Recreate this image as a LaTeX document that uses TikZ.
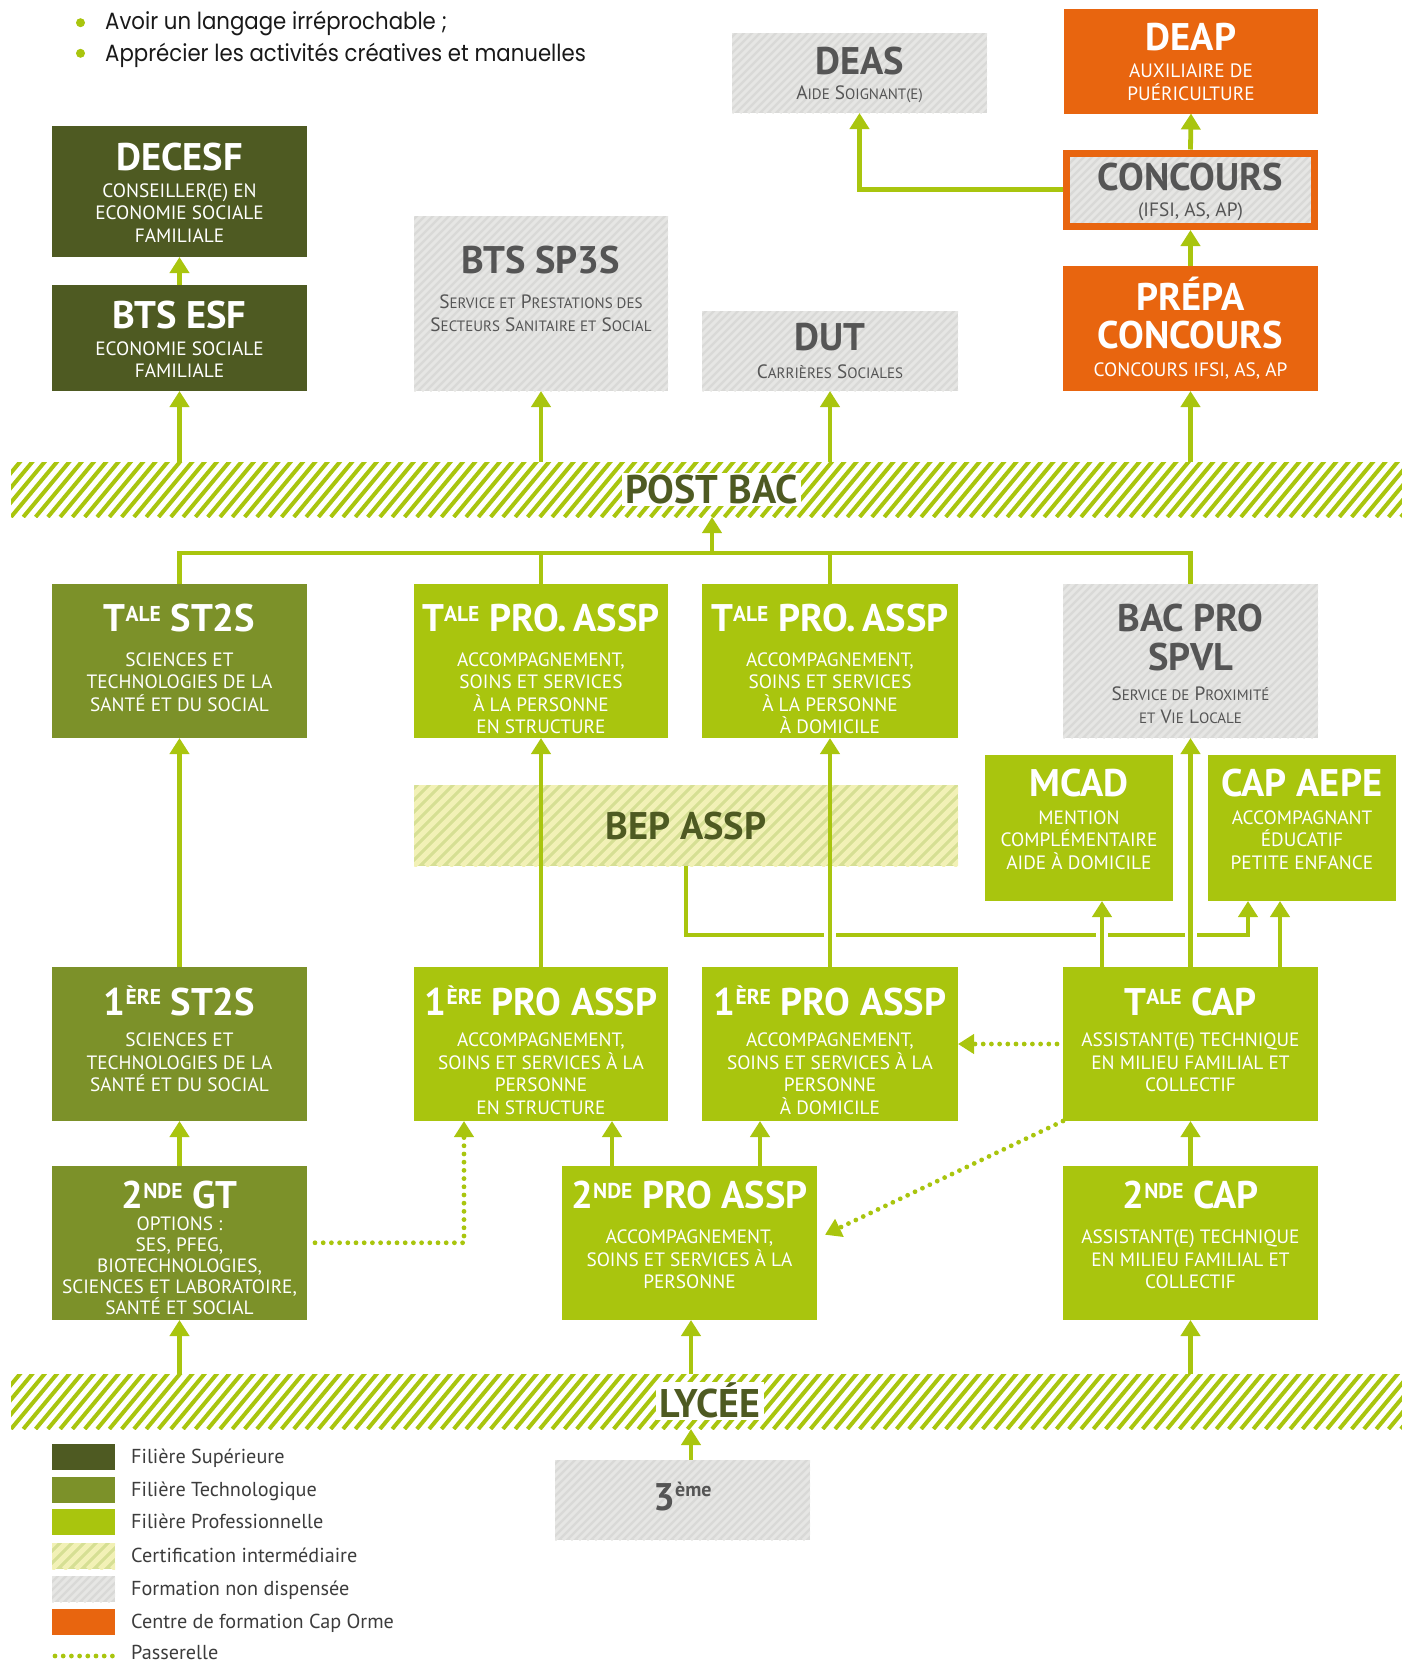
\documentclass[tikz,border=0pt]{standalone}
\usepackage{fontspec}
\setmainfont{PT Sans}
\newfontfamily\ptsans{PT Sans}
\newfontfamily\gothic[FakeStretch=0.905]{Poppins}
\usetikzlibrary{arrows.meta,calc}
\definecolor{csup}{HTML}{4E5A22}
\definecolor{ctech}{HTML}{7C9129}
\definecolor{cpro}{HTML}{A9C50E}
\definecolor{corng}{HTML}{E8650F}
\definecolor{cgreyA}{HTML}{D9D9D7}
\definecolor{cgreyB}{HTML}{E6E6E4}
\definecolor{cgreyT}{HTML}{555555}
\definecolor{ccertA}{HTML}{D6DF94}
\definecolor{ccertB}{HTML}{F2F1B6}
\definecolor{clegT}{HTML}{3C3C3C}
\newcommand\hdfont{\ptsans\bfseries\fontsize{38.5}{38.5}\selectfont}
\newcommand\subfont{\ptsans\fontsize{19.3}{22.5}\selectfont\lineskiplimit=-100pt\relax\lineskip=0pt\relax}
\newcommand\subfontb{\ptsans\fontsize{19.3}{21}\selectfont\lineskiplimit=-100pt\relax\lineskip=0pt\relax}
\newcommand\hdr[1]{\rule{0pt}{27pt}\smash{\hdfont #1}}
\newcommand\hexp[1]{\raisebox{10.5pt}{\fontsize{21.5}{21.5}\selectfont #1}}
\newcommand\smc{\fontsize{15}{15}\selectfont}
\tikzset{
  bx/.style={rectangle, inner sep=0pt, outer sep=0pt, anchor=north west},
  fsup/.style={bx, fill=csup},
  ftech/.style={bx, fill=ctech},
  fpro/.style={bx, fill=cpro},
  forng/.style={bx, fill=corng},
  hatchlines/.style n args={4}{path picture={\foreach \i in {-40,...,80}{\draw[#1, line width=#2] ([xshift=\i*#3]path picture bounding box.south west) -- ++(#4,-#4);}}},
  fgrey/.style={bx, fill=cgreyA, hatchlines={cgreyB}{3}{8}{250}},
  fcert/.style={bx, fill=ccertA, hatchlines={ccertB}{5}{12}{250}},
  band/.style={bx, fill=white, path picture={\foreach \i in {-6,...,116}{\draw[cpro, line width=4] ([xshift=\i*12.3]path picture bounding box.south west) -- ++(50,-60);}}},
  lbl/.style={anchor=north, inner sep=0pt, align=center, font=\subfont, text=white},
  glbl/.style={lbl, text=cgreyT},
  bandtxt/.style={anchor=base, fill=white, inner sep=3pt, text depth=0pt, font=\ptsans\bfseries\fontsize{40}{40}\selectfont, text=csup},
  conn/.style={draw=cpro, line width=4.8},
  arr/.style={conn, -{Triangle[width=19pt,length=16pt]}},
  dotarr/.style={conn, dash pattern=on 0pt off 8.2pt, line cap=round, -{Triangle[width=19pt,length=16pt]}},
  legt/.style={anchor=base west, inner sep=0pt, font=\ptsans\fontsize{20.2}{20.2}\selectfont, text=clegT},
}
\begin{document}
\begin{tikzpicture}[x=1pt, y=-1pt]
\useasboundingbox (0,0) rectangle (1402,1663);

% intro bullets
\node[circle, fill=cpro, minimum size=9, inner sep=0pt] (bul1) at (80.5,22.7) {};
\node[circle, fill=cpro, minimum size=9, inner sep=0pt] (bul2) at (80.5,53.3) {};
\node[anchor=base west, inner sep=0pt, font=\gothic\fontsize{23.5}{23.5}\selectfont, text=black!90] (bt1) at (105,29.7) {Avoir un langage irréprochable ;};
\node[anchor=base west, inner sep=0pt, font=\gothic\fontsize{23.5}{23.5}\selectfont, text=black!90] (bt2) at (105,61.5) {Apprécier les activités créatives et manuelles};

% bands
\node[band, minimum width=1391, minimum height=55] (postbac) at (11,462) {};
\node[band, minimum width=1391, minimum height=55] (lycee) at (11,1374) {};
\node[bandtxt, text height=27pt] (pb-l) at (711.5,503) {POST BAC};
\node[bandtxt, text height=32pt] (ly-l) at (710,1417) {LYCÉE};

% boxes
\node[fgrey, minimum width=255, minimum height=80] (deas) at (732,33) {};
\node[forng, minimum width=254, minimum height=105] (deap) at (1064,8.5) {};
\node[fgrey, draw=corng, line width=7, outer sep=3.5pt, minimum width=248, minimum height=73.5, anchor=center] (concours) at (1190.5,189.75) {};
\node[forng, minimum width=255, minimum height=125] (prepa) at (1063,266) {};
\node[fsup, minimum width=255, minimum height=131] (decesf) at (52,126) {};
\node[fsup, minimum width=255, minimum height=106] (btsesf) at (52,285) {};
\node[fgrey, minimum width=254, minimum height=175] (sp3s) at (414,216) {};
\node[fgrey, minimum width=256, minimum height=80] (dut) at (702,311) {};

\node[ftech, minimum width=255, minimum height=154] (tst2s) at (52,584) {};
\node[fpro, minimum width=254, minimum height=154] (tpro1) at (414,584) {};
\node[fpro, minimum width=256, minimum height=154] (tpro2) at (702,584) {};
\node[fgrey, minimum width=255, minimum height=154] (bacpro) at (1063,584) {};
\node[fpro, minimum width=188, minimum height=146] (mcad) at (985,755) {};
\node[fpro, minimum width=188, minimum height=146] (aepe) at (1208,755) {};
\node[fcert, minimum width=544, minimum height=81] (bep) at (414,785) {};

\node[ftech, minimum width=255, minimum height=154] (pst2s) at (52,967) {};
\node[fpro, minimum width=254, minimum height=154] (ppro1) at (414,967) {};
\node[fpro, minimum width=256, minimum height=154] (ppro2) at (702,967) {};
\node[fpro, minimum width=255, minimum height=154] (tcap) at (1063,967) {};

\node[ftech, minimum width=255, minimum height=154.5] (gt) at (52,1165.5) {};
\node[fpro, minimum width=255, minimum height=154.5] (spro) at (562,1165.5) {};
\node[fpro, minimum width=255, minimum height=154.5] (scap) at (1063,1165.5) {};
\node[fgrey, minimum width=255, minimum height=80] (trois) at (555,1460) {};

% labels
\node[glbl] (deas-l) at (859.5,47) {\hdr{DEAS}\\[2.8pt]A{\smc IDE} S{\smc OIGNANT(E)}};
\node[lbl] (deap-l) at (1191,23.7) {\hdr{DEAP}\\[4.1pt]AUXILIAIRE DE\\PUÉRICULTURE};
\node[glbl] (conc-l) at (1190.5,163) {\hdr{CONCOURS}\\[3.5pt](IFSI, AS, AP)};
\node[lbl] (prepa-l) at (1190.5,283.7) {\hdr{PRÉPA}\\[15.1pt]\hdr{CONCOURS}\\[5.9pt]CONCOURS IFSI, AS, AP};
\node[lbl] (decesf-l) at (179.5,143) {\hdr{DECESF}\\[4.5pt]CONSEILLER(E) EN\\ECONOMIE SOCIALE\\FAMILIALE};
\node[lbl] (btsesf-l) at (179.5,301) {\hdr{BTS ESF}\\[4.5pt]ECONOMIE SOCIALE\\FAMILIALE};
\node[glbl] (sp3s-l) at (541,246) {\hdr{BTS SP3S}\\[13.2pt]S{\smc ERVICE ET} P{\smc RESTATIONS DES}\\S{\smc ECTEURS} S{\smc ANITAIRE ET} S{\smc OCIAL}};
\node[glbl] (dut-l) at (830,323.7) {\hdr{DUT}\\[4.8pt]C{\smc ARRIÈRES} S{\smc OCIALES}};

\node[lbl] (tst2s-l) at (179.5,604.7) {\hdr{T\hexp{ALE} ST2S}\\[11.8pt]SCIENCES ET\\TECHNOLOGIES DE LA\\SANTÉ ET DU SOCIAL};
\node[lbl] (tpro1-l) at (541,604.7) {\hdr{T\hexp{ALE} PRO.\,ASSP}\\[11.8pt]ACCOMPAGNEMENT,\\SOINS ET SERVICES\\À LA PERSONNE\\EN STRUCTURE};
\node[lbl] (tpro2-l) at (830,604.7) {\hdr{T\hexp{ALE} PRO.\,ASSP}\\[11.8pt]ACCOMPAGNEMENT,\\SOINS ET SERVICES\\À LA PERSONNE\\À DOMICILE};
\node[glbl] (bacpro-l) at (1190.5,604.7) {\hdr{BAC PRO}\\[15.8pt]\hdr{SPVL}\\[7.5pt]S{\smc ERVICE DE} P{\smc ROXIMITÉ}\\[0.8pt]{\smc ET} V{\smc IE} L{\smc OCALE}};
\node[lbl] (mcad-l) at (1079,769.7) {\hdr{MCAD}\\[4.8pt]MENTION\\COMPLÉMENTAIRE\\AIDE À DOMICILE};
\node[lbl] (aepe-l) at (1302,769.7) {\hdr{CAP AEPE}\\[4.8pt]ACCOMPAGNANT\\ÉDUCATIF\\PETITE ENFANCE};
\node[lbl, text=csup] (bep-l) at (686,812.3) {\hdr{BEP ASSP}};

\node[lbl] (pst2s-l) at (179.5,988) {\hdr{1\hexp{ÈRE} ST2S}\\[9.2pt]SCIENCES ET\\TECHNOLOGIES DE LA\\SANTÉ ET DU SOCIAL};
\node[lbl] (ppro1-l) at (541,988) {\hdr{1\hexp{ÈRE} PRO ASSP}\\[9.2pt]ACCOMPAGNEMENT,\\SOINS ET SERVICES À LA\\PERSONNE\\EN STRUCTURE};
\node[lbl] (ppro2-l) at (830,988) {\hdr{1\hexp{ÈRE} PRO ASSP}\\[9.2pt]ACCOMPAGNEMENT,\\SOINS ET SERVICES À LA\\PERSONNE\\À DOMICILE};
\node[lbl] (tcap-l) at (1190.5,988) {\hdr{T\hexp{ALE} CAP}\\[9.2pt]ASSISTANT(E) TECHNIQUE\\EN MILIEU FAMILIAL ET\\COLLECTIF};

\node[lbl, font=\subfontb] (gt-l) at (179.5,1181.3) {\hdr{2\hexp{NDE} GT}\\[0.7pt]OPTIONS :\\SES, PFEG,\\BIOTECHNOLOGIES,\\SCIENCES ET LABORATOIRE,\\SANTÉ ET SOCIAL};
\node[lbl] (spro-l) at (689.5,1181.3) {\hdr{2\hexp{NDE} PRO ASSP}\\[12.5pt]ACCOMPAGNEMENT,\\SOINS ET SERVICES À LA\\PERSONNE};
\node[lbl] (scap-l) at (1190.5,1181.3) {\hdr{2\hexp{NDE} CAP}\\[12.5pt]ASSISTANT(E) TECHNIQUE\\EN MILIEU FAMILIAL ET\\COLLECTIF};
\node[anchor=base, inner sep=0pt, text=cgreyT] (trois-l) at (682.5,1510) {{\hdfont 3}\raisebox{13.3pt}{\ptsans\bfseries\fontsize{20}{20}\selectfont ème}};

% connectors (upper part)
\draw[arr] (btsesf.north) -- (decesf.south);
\draw[arr] (concours.north) -- (deap.south);
\draw[arr] (prepa.north) -- (concours.south);
\draw[arr] (concours.west) -| (deas.south);
\draw[arr] (btsesf.south |- postbac.north) -- (btsesf.south);
\draw[arr] (sp3s.south |- postbac.north) -- (sp3s.south);
\draw[arr] (dut.south |- postbac.north) -- (dut.south);
\draw[arr] (prepa.south |- postbac.north) -- (prepa.south);

\coordinate (hl) at (712,553);
\draw[conn] (tst2s.north) -- (tst2s.north |- hl) -- (bacpro.north |- hl) -- (bacpro.north);
\draw[conn] (tpro1.north) -- (tpro1.north |- hl);
\draw[conn] (tpro2.north) -- (tpro2.north |- hl);
\draw[arr] (hl) -- (hl |- postbac.south);

% BEP to CAP AEPE
\coordinate (bepc) at (1248,935);
\draw[arr] (bep.south) |- (bepc) -- (bepc |- aepe.south);
\fill[white] (824,930) rectangle (836,940);
\fill[white] (1096,930) rectangle (1108,940);
\fill[white] (1184.5,930) rectangle (1196.5,940);

% vertical connectors
\draw[arr] (pst2s.north) -- (tst2s.south);
\draw[arr] (gt.north) -- (pst2s.south);
\draw[arr] (gt.south |- lycee.north) -- (gt.south);
\draw[arr] (ppro1.north) -- (tpro1.south);
\draw[arr] (ppro2.north) -- (tpro2.south);
\draw[arr] ([xshift=39]tcap.north west) -- ([xshift=39]tcap.north west |- mcad.south);
\draw[arr] (tcap.north) -- (bacpro.south);
\draw[arr] ([xshift=217]tcap.north west) -- ([xshift=217]tcap.north west |- aepe.south);
\draw[arr] (scap.north) -- (tcap.south);
\draw[arr] (scap.south |- lycee.north) -- (scap.south);
\draw[arr] ([xshift=50]spro.north west) -- ([xshift=50]spro.north west |- ppro1.south);
\draw[arr] ([xshift=198]spro.north west) -- ([xshift=198]spro.north west |- ppro2.south);
\draw[arr] ([xshift=1.5]spro.south |- lycee.north) -- ([xshift=1.5]spro.south);
\draw[arr] ([xshift=136]trois.north west) -- ([xshift=136]trois.north west |- lycee.south);

% passerelles
\draw[dotarr] ([xshift=8]gt.east) -| ([xshift=50]ppro1.south west);
\draw[dotarr] ([xshift=-6]tcap.west) -- (ppro2.east);
\draw[dotarr] (tcap.south west) -- ([xshift=8,yshift=8]spro.east);

% legend
\node[fsup, minimum width=63, minimum height=26] (lg1) at (52,1444) {};
\node[ftech, minimum width=63, minimum height=26] (lg2) at (52,1477) {};
\node[fpro, minimum width=63, minimum height=26] (lg3) at (52,1509) {};
\node[fcert, minimum width=63, minimum height=26] (lg4) at (52,1543) {};
\node[fgrey, minimum width=63, minimum height=26] (lg5) at (52,1576) {};
\node[forng, minimum width=63, minimum height=26] (lg6) at (52,1609) {};
\coordinate (lg7a) at (55,1656);
\coordinate (lg7b) at (114,1656);
\draw[conn, dash pattern=on 0pt off 8.2pt, line cap=round] (lg7a) -- (lg7b);
\node[legt] (lt1) at (131,1463.5) {Filière Supérieure};
\node[legt] (lt2) at (131,1496.5) {Filière Technologique};
\node[legt] (lt3) at (131,1528.5) {Filière Professionnelle};
\node[legt] (lt4) at (131,1562.5) {Certification intermédiaire};
\node[legt] (lt5) at (131,1595.5) {Formation non dispensée};
\node[legt] (lt6) at (131,1628.5) {Centre de formation Cap Orme};
\node[legt] (lt7) at (131,1659) {Passerelle};
\end{tikzpicture}
\end{document}
